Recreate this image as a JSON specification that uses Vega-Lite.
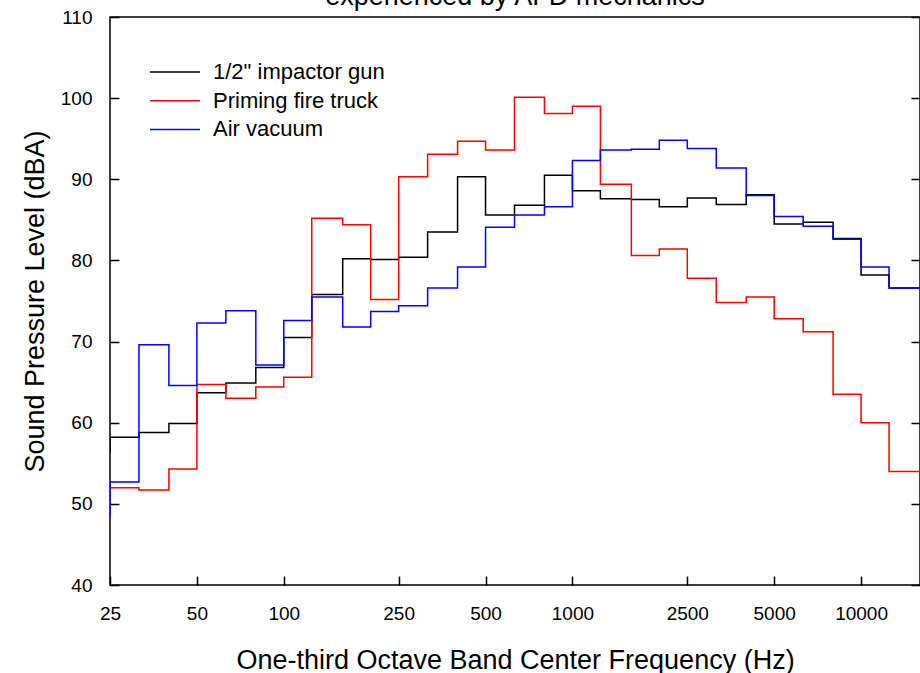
{
  "$schema": "https://vega.github.io/schema/vega-lite/v6.json",
  "width": 810,
  "height": 568,
  "autosize": {"type": "none"},
  "padding": {"left": 110, "top": 17, "right": 0, "bottom": 88},
  "background": "white",
  "title": {"text": "experienced by AFD mechanics", "fontSize": 27, "font": "Liberation Sans", "fontWeight": "normal", "anchor": "middle", "baseline": "alphabetic", "offset": -24, "color": "black"},
  "config": {
    "view": {"stroke": "black", "strokeWidth": 1.5},
    "font": "Liberation Sans",
    "axis": {"grid": false, "domain": false, "tickColor": "black", "tickWidth": 1.5, "labelColor": "black", "titleColor": "black", "titleFontWeight": "normal", "labelFont": "Liberation Sans", "titleFont": "Liberation Sans"}
  },
  "data": {"values": [
    {"s": "1/2\" impactor gun", "f": 20, "db": 56.4},
    {"s": "1/2\" impactor gun", "f": 25, "db": 58.2},
    {"s": "1/2\" impactor gun", "f": 31.5, "db": 58.8},
    {"s": "1/2\" impactor gun", "f": 40, "db": 59.9},
    {"s": "1/2\" impactor gun", "f": 50, "db": 63.7},
    {"s": "1/2\" impactor gun", "f": 63, "db": 64.9},
    {"s": "1/2\" impactor gun", "f": 80, "db": 66.8},
    {"s": "1/2\" impactor gun", "f": 100, "db": 70.5},
    {"s": "1/2\" impactor gun", "f": 125, "db": 75.8},
    {"s": "1/2\" impactor gun", "f": 160, "db": 80.2},
    {"s": "1/2\" impactor gun", "f": 200, "db": 80.1},
    {"s": "1/2\" impactor gun", "f": 250, "db": 80.4},
    {"s": "1/2\" impactor gun", "f": 315, "db": 83.5},
    {"s": "1/2\" impactor gun", "f": 400, "db": 90.3},
    {"s": "1/2\" impactor gun", "f": 500, "db": 85.6},
    {"s": "1/2\" impactor gun", "f": 630, "db": 86.8},
    {"s": "1/2\" impactor gun", "f": 800, "db": 90.5},
    {"s": "1/2\" impactor gun", "f": 1000, "db": 88.6},
    {"s": "1/2\" impactor gun", "f": 1250, "db": 87.6},
    {"s": "1/2\" impactor gun", "f": 1600, "db": 87.5},
    {"s": "1/2\" impactor gun", "f": 2000, "db": 86.6},
    {"s": "1/2\" impactor gun", "f": 2500, "db": 87.7},
    {"s": "1/2\" impactor gun", "f": 3150, "db": 86.9},
    {"s": "1/2\" impactor gun", "f": 4000, "db": 88.1},
    {"s": "1/2\" impactor gun", "f": 5000, "db": 84.5},
    {"s": "1/2\" impactor gun", "f": 6300, "db": 84.7},
    {"s": "1/2\" impactor gun", "f": 8000, "db": 82.7},
    {"s": "1/2\" impactor gun", "f": 10000, "db": 78.2},
    {"s": "1/2\" impactor gun", "f": 12500, "db": 76.6},
    {"s": "1/2\" impactor gun", "f": 16000, "db": 76.6},
    {"s": "Priming fire truck", "f": 20, "db": 48.8},
    {"s": "Priming fire truck", "f": 25, "db": 52.0},
    {"s": "Priming fire truck", "f": 31.5, "db": 51.7},
    {"s": "Priming fire truck", "f": 40, "db": 54.3},
    {"s": "Priming fire truck", "f": 50, "db": 64.7},
    {"s": "Priming fire truck", "f": 63, "db": 63.0},
    {"s": "Priming fire truck", "f": 80, "db": 64.4},
    {"s": "Priming fire truck", "f": 100, "db": 65.6},
    {"s": "Priming fire truck", "f": 125, "db": 85.2},
    {"s": "Priming fire truck", "f": 160, "db": 84.4},
    {"s": "Priming fire truck", "f": 200, "db": 75.2},
    {"s": "Priming fire truck", "f": 250, "db": 90.3},
    {"s": "Priming fire truck", "f": 315, "db": 93.1},
    {"s": "Priming fire truck", "f": 400, "db": 94.7},
    {"s": "Priming fire truck", "f": 500, "db": 93.6},
    {"s": "Priming fire truck", "f": 630, "db": 100.1},
    {"s": "Priming fire truck", "f": 800, "db": 98.1},
    {"s": "Priming fire truck", "f": 1000, "db": 99.0},
    {"s": "Priming fire truck", "f": 1250, "db": 89.4},
    {"s": "Priming fire truck", "f": 1600, "db": 80.6},
    {"s": "Priming fire truck", "f": 2000, "db": 81.4},
    {"s": "Priming fire truck", "f": 2500, "db": 77.8},
    {"s": "Priming fire truck", "f": 3150, "db": 74.8},
    {"s": "Priming fire truck", "f": 4000, "db": 75.5},
    {"s": "Priming fire truck", "f": 5000, "db": 72.8},
    {"s": "Priming fire truck", "f": 6300, "db": 71.2},
    {"s": "Priming fire truck", "f": 8000, "db": 63.5},
    {"s": "Priming fire truck", "f": 10000, "db": 60.0},
    {"s": "Priming fire truck", "f": 12500, "db": 54.0},
    {"s": "Priming fire truck", "f": 16000, "db": 54.0},
    {"s": "Air vacuum", "f": 20, "db": 48.5},
    {"s": "Air vacuum", "f": 25, "db": 52.7},
    {"s": "Air vacuum", "f": 31.5, "db": 69.6},
    {"s": "Air vacuum", "f": 40, "db": 64.6},
    {"s": "Air vacuum", "f": 50, "db": 72.3},
    {"s": "Air vacuum", "f": 63, "db": 73.8},
    {"s": "Air vacuum", "f": 80, "db": 67.1},
    {"s": "Air vacuum", "f": 100, "db": 72.6},
    {"s": "Air vacuum", "f": 125, "db": 75.5},
    {"s": "Air vacuum", "f": 160, "db": 71.8},
    {"s": "Air vacuum", "f": 200, "db": 73.7},
    {"s": "Air vacuum", "f": 250, "db": 74.4},
    {"s": "Air vacuum", "f": 315, "db": 76.6},
    {"s": "Air vacuum", "f": 400, "db": 79.2},
    {"s": "Air vacuum", "f": 500, "db": 84.1},
    {"s": "Air vacuum", "f": 630, "db": 85.6},
    {"s": "Air vacuum", "f": 800, "db": 86.6},
    {"s": "Air vacuum", "f": 1000, "db": 92.3},
    {"s": "Air vacuum", "f": 1250, "db": 93.6},
    {"s": "Air vacuum", "f": 1600, "db": 93.7},
    {"s": "Air vacuum", "f": 2000, "db": 94.8},
    {"s": "Air vacuum", "f": 2500, "db": 93.8},
    {"s": "Air vacuum", "f": 3150, "db": 91.4},
    {"s": "Air vacuum", "f": 4000, "db": 88.0},
    {"s": "Air vacuum", "f": 5000, "db": 85.4},
    {"s": "Air vacuum", "f": 6300, "db": 84.2},
    {"s": "Air vacuum", "f": 8000, "db": 82.6},
    {"s": "Air vacuum", "f": 10000, "db": 79.2},
    {"s": "Air vacuum", "f": 12500, "db": 76.6},
    {"s": "Air vacuum", "f": 16000, "db": 76.6}
  ]},
  "layer": [
    {
      "mark": {"type": "line", "interpolate": "step-after", "clip": true, "strokeWidth": 1.5},
      "encoding": {
        "x": {"field": "f", "type": "quantitative",
          "scale": {"type": "log", "domain": [25, 16000], "nice": false},
          "axis": {"values": [25, 50, 100, 250, 500, 1000, 2500, 5000, 10000], "format": "d", "tickSize": -9, "labelPadding": 28, "labelFontSize": 19, "labelFlush": false, "labelOverlap": false,
            "title": "One-third Octave Band Center Frequency (Hz)", "titleFontSize": 27, "titleY": 75, "titleBaseline": "middle"}},
        "y": {"field": "db", "type": "quantitative",
          "scale": {"domain": [40, 110], "nice": false, "zero": false},
          "axis": {"values": [40, 50, 60, 70, 80, 90, 100, 110], "tickSize": -9, "labelPadding": 27, "labelFontSize": 19, "labelFlush": false, "labelOverlap": false,
            "title": "Sound Pressure Level (dBA)", "titleFontSize": 27, "titleX": -75, "titleBaseline": "middle"}},
        "color": {"field": "s", "type": "nominal",
          "scale": {"domain": ["1/2\" impactor gun", "Priming fire truck", "Air vacuum"], "range": ["#000000", "#ff0000", "#0000ff"]},
          "legend": {"orient": "none", "legendX": 39, "legendY": 44, "title": null, "symbolType": "stroke", "symbolSize": 2500, "symbolStrokeWidth": 1.5, "clipHeight": 22, "rowPadding": 6.7, "labelFontSize": 22, "labelOffset": 12, "labelColor": "black", "padding": 0, "labelLimit": 400}}
      }
    },
    {
      "mark": {"type": "point", "opacity": 0, "clip": true},
      "encoding": {
        "x": {"field": "f", "type": "quantitative"},
        "y": {"field": "db", "type": "quantitative",
          "axis": {"orient": "right", "values": [40, 50, 60, 70, 80, 90, 100, 110], "labels": false, "tickSize": -9, "title": null}}
      }
    }
  ],
  "resolve": {"axis": {"y": "independent"}}
}
